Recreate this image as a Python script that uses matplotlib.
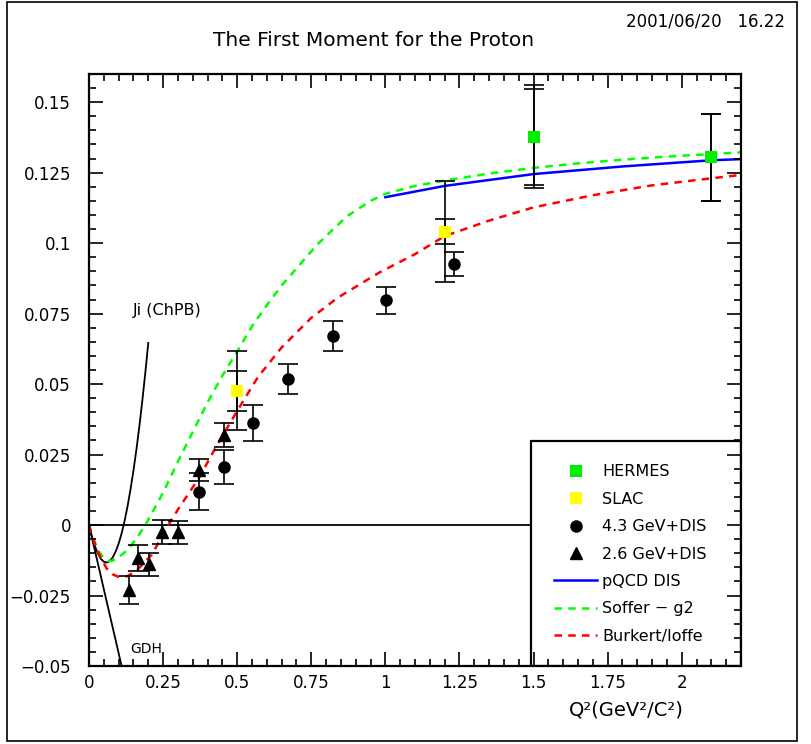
import matplotlib
matplotlib.use("Agg")
import matplotlib.pyplot as plt
from matplotlib.patches import Rectangle
from matplotlib.lines import Line2D

plt.rcParams['font.family'] = ['DejaVu Sans']
plt.rcParams['font.size'] = 12

# data points
hermes_x = [1.5, 2.1]
hermes_y = [0.1377, 0.1304]
hermes_stat = [0.0170, 0.0153]
hermes_tot = [0.0183, 0.0153]

slac_x = [0.5, 1.2]
slac_y = [0.0476, 0.1041]
slac_stat = [0.0070, 0.0045]
slac_tot = [0.0140, 0.0180]

e43_x = [0.371, 0.456, 0.552, 0.671, 0.822, 1.002, 1.23]
e43_y = [0.0118, 0.0207, 0.0362, 0.0518, 0.0671, 0.0798, 0.0926]
e43_err = [0.0066, 0.0060, 0.0063, 0.0053, 0.0053, 0.0048, 0.0043]

e26_x = [0.135, 0.167, 0.201, 0.246, 0.300, 0.370, 0.455]
e26_y = [-0.0230, -0.0118, -0.0139, -0.0026, -0.0026, 0.0195, 0.0319]
e26_err = [0.0050, 0.0046, 0.0041, 0.0043, 0.0042, 0.0040, 0.0042]

# theory curves
pqcd_x = [1.0, 1.2, 1.5, 1.8, 2.1, 2.2]
pqcd_y = [0.1163, 0.1203, 0.1245, 0.1272, 0.1294, 0.1298]

soffer_x = [0, 0.015, 0.03, 0.05, 0.065, 0.08, 0.1, 0.133, 0.16, 0.19, 0.22, 0.25,
            0.3, 0.35, 0.4, 0.45, 0.5, 0.55, 0.6, 0.65, 0.7, 0.77, 0.87, 0.95, 1.0,
            1.1, 1.2, 1.35, 1.5, 1.65, 1.8, 1.95, 2.1, 2.2]
soffer_y = [0, -0.0050, -0.0088, -0.0118, -0.0127, -0.0126, -0.0115, -0.0085, -0.0048,
            0, 0.0057, 0.0115, 0.0225, 0.033, 0.0435, 0.053, 0.0616, 0.0705, 0.078,
            0.085, 0.091, 0.0995, 0.1095, 0.1150, 0.1175, 0.1203, 0.1222, 0.1247,
            0.1267, 0.1283, 0.1296, 0.1307, 0.1316, 0.1322]

burkert_x = [0, 0.015, 0.031, 0.06, 0.08, 0.105, 0.13, 0.16, 0.212, 0.265, 0.3, 0.37,
             0.43, 0.5, 0.57, 0.65, 0.75, 0.84, 0.98, 1.1, 1.2, 1.35, 1.5, 1.7, 1.9,
             2.1, 2.2]
burkert_y = [0, -0.0052, -0.0097, -0.0155, -0.0175, -0.0186, -0.0181, -0.0162, -0.0105,
             -0.0005, 0.0055, 0.0165, 0.028, 0.0405, 0.0525, 0.0630, 0.0735, 0.0807,
             0.0896, 0.0961, 0.1025, 0.108, 0.1127, 0.117, 0.1205, 0.1230, 0.1242]

ji_x = [0, 0.01, 0.02, 0.03, 0.04, 0.05, 0.06, 0.07, 0.08, 0.09, 0.10, 0.11, 0.12,
        0.13, 0.14, 0.15, 0.16, 0.17, 0.18, 0.19, 0.20]
ji_y = [0, -0.0042, -0.0075, -0.0101, -0.0120, -0.0130, -0.0133, -0.0128, -0.0115,
        -0.0094, -0.0066, -0.0030, 0.0014, 0.0066, 0.0126, 0.0193, 0.0268, 0.0351,
        0.0442, 0.0540, 0.0646]

gdh_x = [0, 0.11]
gdh_y = [0, -0.05]

fig = plt.figure(figsize=(8.12, 7.44), dpi=100)
ax = fig.add_axes([89 / 812, 78 / 744, 652 / 812, 592 / 744])

# cadre exterieur
fig.patches.append(Rectangle((7 / 812, 3 / 744), 790 / 812, 739 / 744, transform=fig.transFigure,
                             fill=False, edgecolor='black', linewidth=1.2))

ax.axhline(0, color='black', linewidth=1.3, zorder=2)

ax.plot(ji_x, ji_y, color='black', linewidth=1.3, zorder=2)
ax.plot(gdh_x, gdh_y, color='black', linewidth=1.3, zorder=2)
ax.plot(soffer_x, soffer_y, color='#00ff00', linewidth=1.8, dashes=(3, 2.5), zorder=2)
ax.plot(burkert_x, burkert_y, color='#ff0000', linewidth=1.8, dashes=(3, 2.5), zorder=2)
ax.plot(pqcd_x, pqcd_y, color='#0000ff', linewidth=1.8, zorder=2)

eb = dict(fmt='none', ecolor='black', elinewidth=1.2, capsize=7, capthick=1.2, zorder=2.4)
ax.errorbar(hermes_x, hermes_y, yerr=hermes_tot, **eb)
ax.errorbar(hermes_x, hermes_y, yerr=hermes_stat, **eb)
ax.errorbar(slac_x, slac_y, yerr=slac_tot, **eb)
ax.errorbar(slac_x, slac_y, yerr=slac_stat, **eb)
ax.errorbar(e43_x, e43_y, yerr=e43_err, **eb)
ax.errorbar(e26_x, e26_y, yerr=e26_err, **eb)

ax.plot(hermes_x, hermes_y, 's', color='#00ee00', markersize=9, markeredgewidth=0, zorder=2.6)
ax.plot(slac_x, slac_y, 's', color='#ffff00', markersize=9, markeredgewidth=0, zorder=2.6)
ax.plot(e43_x, e43_y, 'o', color='black', markersize=8, zorder=2.6)
ax.plot(e26_x, e26_y, '^', color='black', markersize=8, zorder=2.6)

ax.text(0.149, 0.0762, 'Ji (ChPB)', fontsize=11.5, va='center')
ax.text(0.139, -0.044, 'GDH', fontsize=10, va='center')

ax.set_xlim(0, 2.2)
ax.set_ylim(-0.05, 0.16)
ax.set_xticks([0, 0.25, 0.5, 0.75, 1, 1.25, 1.5, 1.75, 2])
ax.set_xticklabels(['0', '0.25', '0.5', '0.75', '1', '1.25', '1.5', '1.75', '2'])
ax.set_xticks([i * 0.05 for i in range(45)], minor=True)
ax.set_yticks([-0.05, -0.025, 0, 0.025, 0.05, 0.075, 0.1, 0.125, 0.15])
ax.set_yticklabels(['\u22120.05', '\u22120.025', '0', '0.025', '0.05', '0.075', '0.1', '0.125', '0.15'])
ax.set_yticks([-0.05 + i * 0.005 for i in range(43)], minor=True)
ax.tick_params(which='both', direction='in', top=True, right=True, width=1.2)
ax.tick_params(which='major', length=10)
ax.tick_params(which='minor', length=5)
ax.tick_params(axis='y', which='major', pad=13)
ax.tick_params(axis='x', which='major', pad=6)
for s in ax.spines.values():
    s.set_linewidth(1.6)
ax.set_axisbelow(False)

# boite de legende
ax.add_patch(Rectangle((0.678, 0), 0.322, 0.38, transform=ax.transAxes, facecolor='white',
                       edgecolor='black', linewidth=1.6, zorder=2.2))
handles = [
    Line2D([], [], marker='s', color='#00ee00', linestyle='none', markersize=9, markeredgewidth=0),
    Line2D([], [], marker='s', color='#ffff00', linestyle='none', markersize=9, markeredgewidth=0),
    Line2D([], [], marker='o', color='black', linestyle='none', markersize=8),
    Line2D([], [], marker='^', color='black', linestyle='none', markersize=8),
    Line2D([], [], color='#0000ff', linewidth=1.8),
    Line2D([], [], color='#00ff00', linewidth=1.8, dashes=(3, 2.5)),
    Line2D([], [], color='#ff0000', linewidth=1.8, dashes=(3, 2.5)),
]
labels = ['HERMES', 'SLAC', '4.3 GeV+DIS', '2.6 GeV+DIS', 'pQCD DIS', 'Soffer \u2212 g2', 'Burkert/Ioffe']
leg = ax.legend(handles, labels, loc='upper left', bbox_to_anchor=(0.678, 0.38), frameon=False,
                fontsize=11.5, handlelength=2.7, handletextpad=0.3, labelspacing=0.78,
                borderpad=1.45, borderaxespad=0)
leg.set_zorder(3)

fig.text(374 / 812, 1 - 41 / 744, 'The First Moment for the Proton', ha='center', va='center', fontsize=14.5)
fig.text(785 / 812, 1 - 22 / 744, '2001/06/20   16.22', ha='right', va='center', fontsize=12)
fig.text(684 / 812, 1 - 710 / 744, 'Q\u00b2(GeV\u00b2/C\u00b2)', ha='right', va='center', fontsize=14)

fig.savefig('out.png', dpi=100)
